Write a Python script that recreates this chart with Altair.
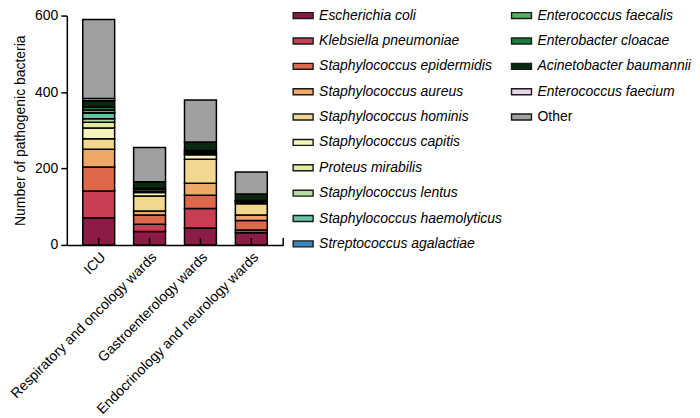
import altair as alt
import pandas as pd

wards = ["ICU", "Respiratory and oncology wards", "Gastroenterology wards",
         "Endocrinology and neurology wards"]

species = ["Escherichia coli", "Klebsiella pneumoniae", "Staphylococcus epidermidis",
           "Staphylococcus aureus", "Staphylococcus hominis", "Staphylococcus capitis",
           "Proteus mirabilis", "Staphylococcus lentus", "Staphylococcus haemolyticus",
           "Streptococcus agalactiae", "Enterococcus faecalis", "Enterobacter cloacae",
           "Acinetobacter baumannii", "Enterococcus faecium", "Other"]

colors = ["#8c1c45", "#c93e52", "#e0684a", "#f0a868", "#f2d88e", "#f6f3bd",
          "#e3eb9c", "#b3dca2", "#67c3a6", "#3a87c0", "#5aae61", "#1d7a3a",
          "#0a2913", "#e8d5e8", "#a0a0a0"]

icu    = [71, 70, 63, 46, 28, 28, 15, 9, 15, 1, 7, 8, 16, 6, 207]
resp   = [35, 19, 24, 11, 39, 9, 3, 0, 0, 0, 5, 3, 17, 0, 90]
gastro = [44, 51, 35, 31, 63, 12, 3, 0, 0, 0, 4, 4, 22, 0, 110]
endo   = [32, 7, 25, 14, 30, 3, 0, 0, 0, 0, 4, 1, 17, 0, 58]

FONT = "Liberation Sans"
FS = 14

rows = []
for w, vals in zip(wards, [icu, resp, gastro, endo]):
    for i, (s, v) in enumerate(zip(species, vals)):
        if v > 0:
            rows.append({"ward": w, "species": s, "idx": i, "count": v})
df = pd.DataFrame(rows)

xscale = alt.Scale(paddingInner=0.373, paddingOuter=0.313)
xenc = alt.X("ward:N", sort=wards, scale=xscale,
             axis=alt.Axis(title=None, labelAngle=-45, labelAlign="right",
                           labelBaseline="top", tickSize=0, labelPadding=5,
                           labelLimit=400,
                           labelFontSize=FS, labelFont=FONT, labelColor="black",
                           domainColor="black", domainWidth=1.5))

bars = alt.Chart(df).mark_bar(stroke="black", strokeWidth=1.5).encode(
    x=xenc,
    y=alt.Y("count:Q", stack="zero", scale=alt.Scale(domain=[0, 600]),
            axis=alt.Axis(values=[0, 200, 400, 600], grid=False, tickSize=6,
                          tickWidth=1.5, tickColor="black", domainColor="black",
                          domainWidth=1.5, labelFontSize=FS, labelFont=FONT,
                          labelColor="black", labelPadding=3,
                          title="Number of pathogenic bacteria", titleFont=FONT,
                          titleFontSize=FS, titleFontWeight="normal",
                          titleColor="black", titlePadding=7)),
    color=alt.Color("species:N", scale=alt.Scale(domain=species, range=colors),
                    legend=None),
    order=alt.Order("idx:Q", sort="ascending"),
)

ticks = alt.Chart(pd.DataFrame({"ward": wards})).mark_rule(
    color="black", strokeWidth=1.5).encode(
    x=alt.X("ward:N", sort=wards), y=alt.value(223), y2=alt.value(230))

endtick = alt.Chart(pd.DataFrame({"a": [0]})).mark_rule(
    color="black", strokeWidth=1.5).encode(
    x=alt.value(217), y=alt.value(223), y2=alt.value(230))

main = alt.layer(bars, ticks, endtick).properties(width=217, height=230)

shape = "M-1,-0.3H1V0.3H-1Z"


def legend_col(names, width):
    ldf = pd.DataFrame({"name": names, "row": list(range(len(names))),
                        "sp": names})
    yq = alt.Y("row:Q", scale=alt.Scale(domain=[0, 9], range=[0, 229]), axis=None)
    sym = alt.Chart(ldf).mark_point(shape=shape, size=400, filled=True,
                                    stroke="#1a1a1a", strokeWidth=1.4,
                                    opacity=1).encode(
        x=alt.value(10), y=yq,
        fill=alt.Color("sp:N", scale=alt.Scale(domain=species, range=colors),
                       legend=None))
    txt_it = alt.Chart(ldf).transform_filter(alt.datum.name != "Other").mark_text(
        align="left", baseline="middle", fontSize=FS, font=FONT,
        fontStyle="italic", color="black").encode(
        x=alt.value(26), y=yq, text="name:N")
    txt_n = alt.Chart(ldf).transform_filter(alt.datum.name == "Other").mark_text(
        align="left", baseline="middle", fontSize=FS, font=FONT,
        color="black").encode(
        x=alt.value(26), y=yq, text="name:N")
    return alt.layer(sym, txt_it, txt_n).properties(width=width, height=230)


leg1 = legend_col(species[:10], 209)
leg2 = legend_col(species[10:], 150)

chart = alt.hconcat(main, leg1, leg2, spacing=10, bounds="flush").properties(
    padding={"left": 0, "top": 0, "right": 0, "bottom": 0}
).configure_view(stroke=None).resolve_scale(color="shared", fill="shared")

chart.save("out.html", embed_options={"renderer": "svg", "actions": False})
